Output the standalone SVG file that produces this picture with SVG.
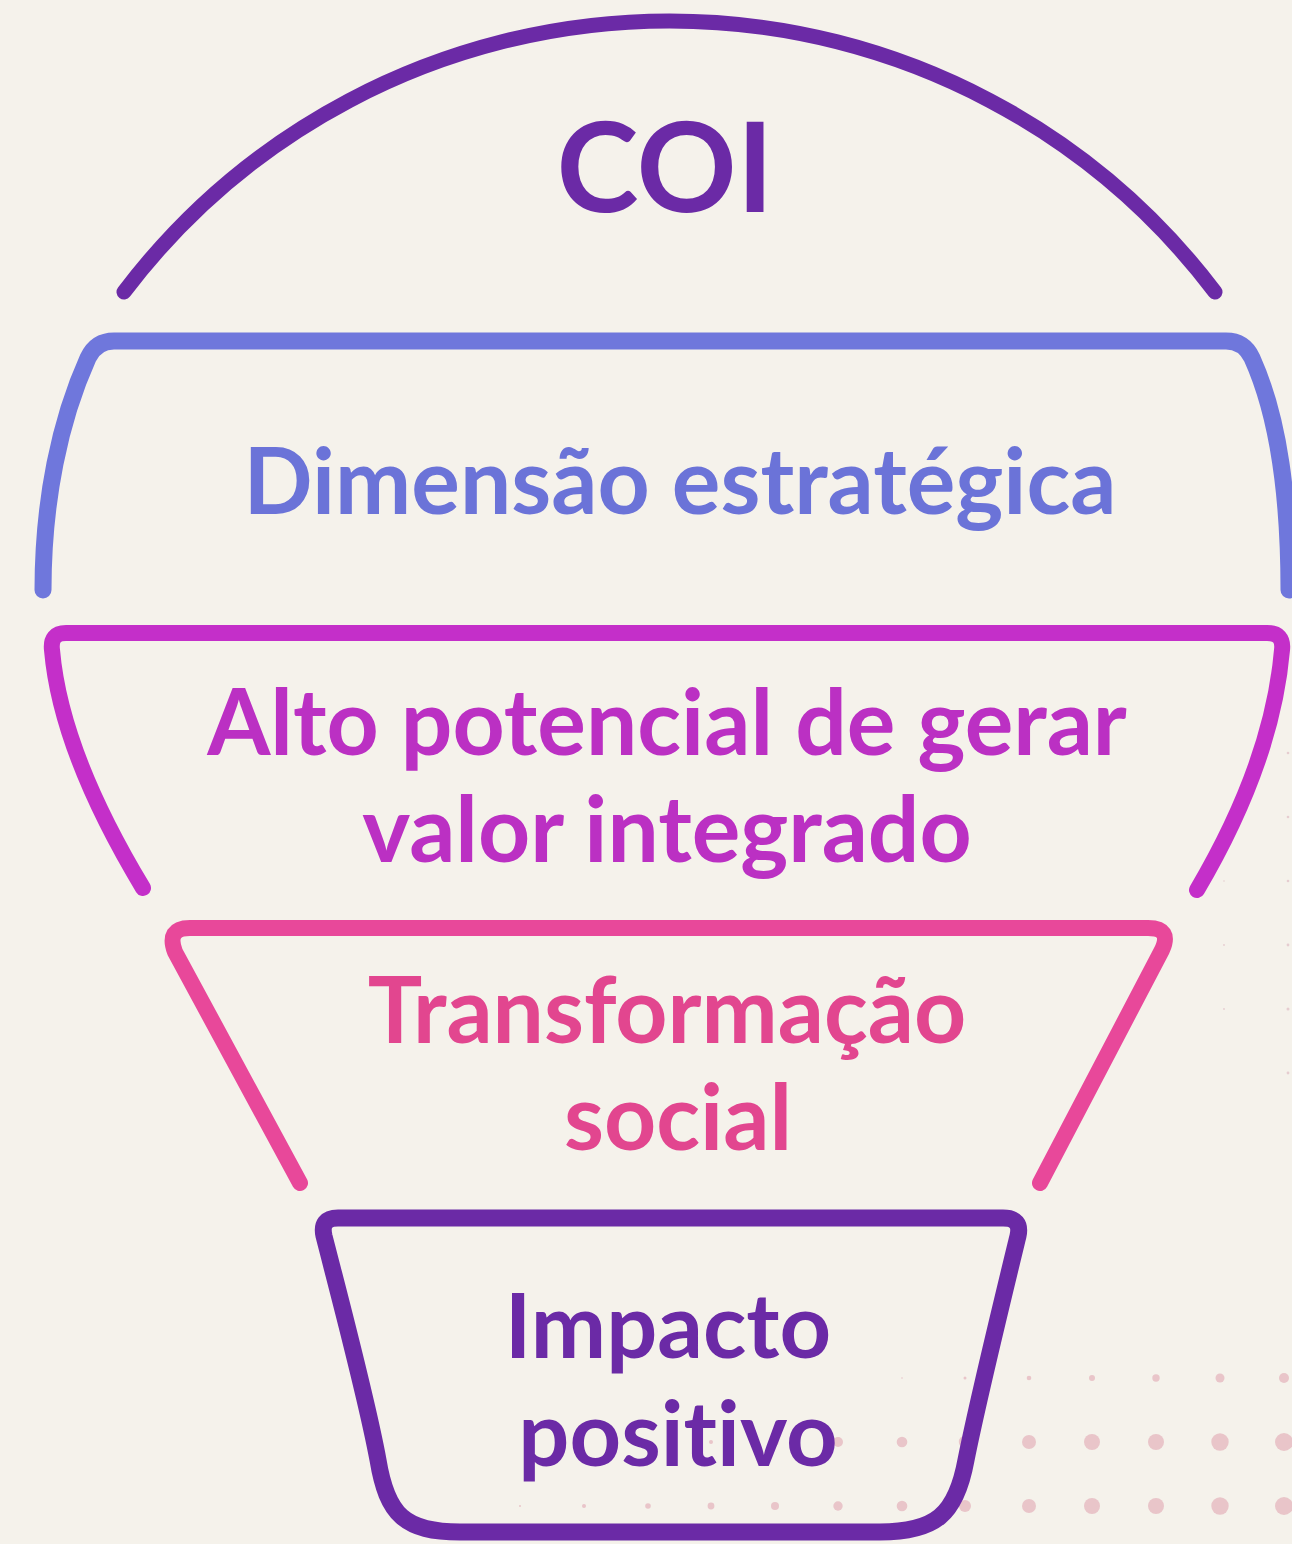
<svg xmlns="http://www.w3.org/2000/svg" width="1292" height="1544" viewBox="0 0 1292 1544">
<style>
.ln{fill:none;stroke-linecap:round;stroke-linejoin:round}
.t{font-family:Lato,"Open Sans","Liberation Sans",sans-serif;font-weight:bold;text-anchor:middle;font-variant-ligatures:none;font-feature-settings:"liga" 0}
.d{fill:#e9c5c9}
.df{fill:#e6cdd0}
</style>
<rect width="1292" height="1544" fill="#f5f2eb"/>
<g id="dots">
<circle class="df" cx="1288" cy="753" r="1.3"/><circle class="df" cx="1288" cy="817" r="1.3"/><circle class="df" cx="1288" cy="881" r="1.3"/><circle class="df" cx="1288" cy="945" r="1.4"/><circle class="df" cx="1288" cy="1009" r="1.5"/><circle class="df" cx="1288" cy="1073" r="1.4"/>
<circle class="df" cx="1224" cy="881" r="0.8"/><circle class="df" cx="1224" cy="945" r="0.9"/><circle class="df" cx="1224" cy="1009" r="0.9"/>
<circle class="d" cx="902" cy="1378" r="0.8"/><circle class="d" cx="965" cy="1378" r="1.5"/><circle class="d" cx="1029" cy="1378" r="2.3"/><circle class="d" cx="1092" cy="1378" r="3"/><circle class="d" cx="1156" cy="1378" r="3.7"/><circle class="d" cx="1220" cy="1378" r="4.5"/><circle class="d" cx="1284" cy="1378" r="5"/>
<circle class="d" cx="711" cy="1442" r="2"/><circle class="d" cx="775" cy="1442" r="3.5"/><circle class="d" cx="838" cy="1442" r="5"/><circle class="d" cx="902" cy="1442" r="5.3"/><circle class="d" cx="965" cy="1442" r="6.2"/><circle class="d" cx="1029" cy="1442" r="7"/><circle class="d" cx="1092" cy="1442" r="8"/><circle class="d" cx="1156" cy="1442" r="8"/><circle class="d" cx="1220" cy="1442" r="8.7"/><circle class="d" cx="1284" cy="1442" r="9"/>
<circle class="d" cx="520" cy="1506" r="1"/><circle class="d" cx="584" cy="1506" r="2"/><circle class="d" cx="648" cy="1506" r="2.8"/><circle class="d" cx="711" cy="1506" r="3.4"/><circle class="d" cx="775" cy="1506" r="4"/><circle class="d" cx="838" cy="1506" r="4.7"/><circle class="d" cx="902" cy="1506" r="5.3"/><circle class="d" cx="965" cy="1506" r="6"/><circle class="d" cx="1029" cy="1506" r="7"/><circle class="d" cx="1092" cy="1506" r="8"/><circle class="d" cx="1156" cy="1506" r="8"/><circle class="d" cx="1220" cy="1506" r="8.7"/><circle class="d" cx="1284" cy="1506" r="9"/>
</g>
<g id="coi">
<path class="ln" d="M124 292 A684.5 684.5 0 0 1 1215 292" stroke="#6b2aa6" stroke-width="15"/>
<text class="t" x="665" y="212" font-size="124" fill="#6b2aa6">COI</text>
</g>
<g id="dimensao">
<path class="ln" d="M43 590 C43 500 60 420 88 358 Q96 341 114 341 H1226 Q1244 341 1252 358 C1280 420 1289 500 1289 590" stroke="#6f77dc" stroke-width="17"/>
<text class="t" x="680" y="514" font-size="91" fill="#6b73d8">Dimensão estratégica</text>
</g>
<g id="alto">
<path class="ln" d="M143 888 C90 800 58 720 52 650 Q50 633 66 633 H1267 Q1284 633 1282 650 C1276 720 1250 800 1197 890" stroke="#c42fc9" stroke-width="16"/>
<text class="t" x="667" y="755" font-size="91" fill="#bb30c3">Alto potencial de gerar</text>
<text class="t" x="667" y="862" font-size="91" fill="#bb30c3">valor integrado</text>
</g>
<g id="transformacao">
<path class="ln" d="M300 1183 L175 952 Q166 928 190 928 H1148 Q1172 928 1162 950 L1040 1183" stroke="#e8489a" stroke-width="16"/>
<text class="t" x="667" y="1043" font-size="91" fill="#e2468f">Transformação</text>
<text class="t" x="678" y="1150" font-size="91" fill="#e2468f">social</text>
</g>
<g id="impacto">
<path class="ln" d="M338 1218 H1003 Q1022 1218 1018 1236 C1000 1310 978 1400 966 1460 C956 1515 935 1532 880 1532 H460 C405 1532 387 1515 378 1460 C367 1400 343 1310 324 1236 Q320 1218 338 1218 Z" stroke="#6b2aa6" stroke-width="17"/>
<text class="t" x="668" y="1358" font-size="90" fill="#6b2aa6">Impacto</text>
<text class="t" x="678" y="1466" font-size="90" fill="#6b2aa6">positivo</text>
</g>
</svg>
